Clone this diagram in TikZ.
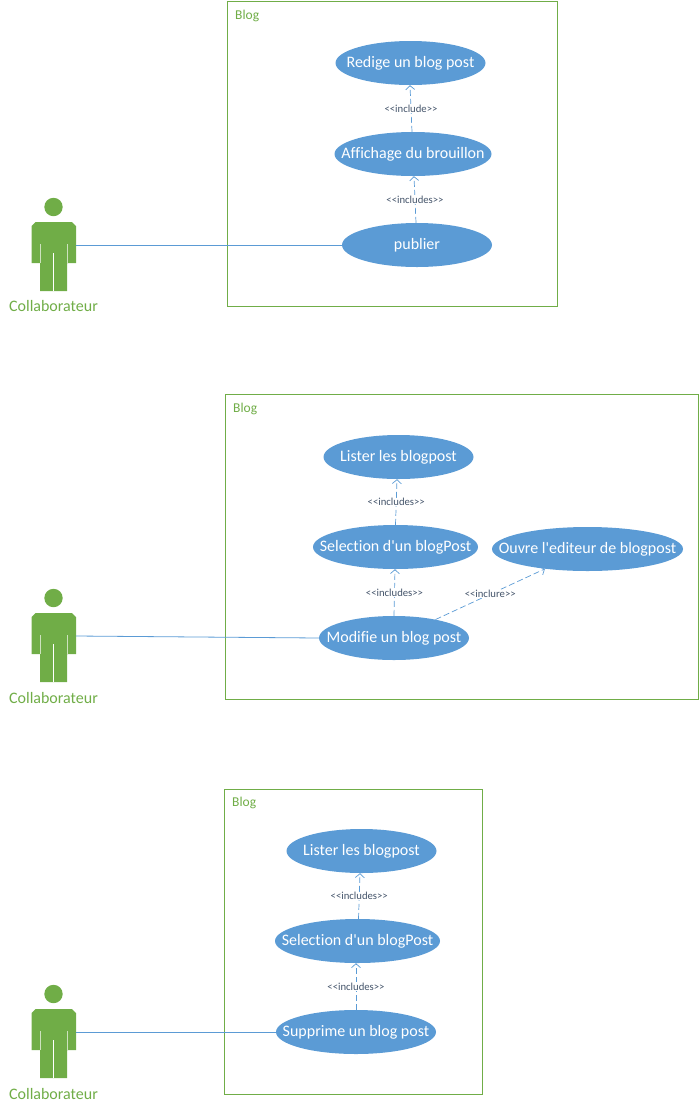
\documentclass[tikz,border=0pt]{standalone}
\usepackage{fontspec}
\setmainfont{Carlito}
\newfontfamily\ucfont[Ligatures=NoCommon]{Carlito}
\usetikzlibrary{shapes.geometric,arrows.meta}
\definecolor{ucblue}{HTML}{5B9BD5}
\definecolor{ucgreen}{HTML}{70AD47}
\definecolor{lblcol}{HTML}{44546A}
\tikzset{
  uc/.style={ellipse,fill=ucblue,draw=none,inner sep=0pt,minimum height=44,text=white,font=\ucfont\fontsize{16}{18}\selectfont},
  frameb/.style={draw=ucgreen,line width=0.8pt,fill=none},
  bloglbl/.style={anchor=west,text=ucgreen,inner sep=0pt,font=\fontsize{13.5}{15}\selectfont},
  actorlbl/.style={text=ucgreen,inner sep=0pt,font=\fontsize{16}{18}\selectfont},
  assoc/.style={draw=ucblue,line width=0.8pt},
  incl/.style={draw=ucblue,line width=0.7pt,dash pattern=on 6pt off 3pt,-{Straight Barb[length=4pt,width=9pt,line width=0.7pt]}},
  incllbl/.style={fill=white,text=lblcol,inner sep=0.5pt,font=\ucfont\fontsize{10.7}{12}\selectfont},
}
\newcommand{\actorfig}[2]{%
  \begin{scope}[yshift=-#1]
    \fill[ucgreen] (53.5,207) circle[radius=9.2];
    \fill[ucgreen] (35.5,222) -- (72,222) -- (76,226) -- (76,263) -- (67,263) -- (67,291) -- (40,291) -- (40,263) -- (31.5,263) -- (31.5,226) -- cycle;
    \draw[white!65!ucgreen,line width=0.8pt] (40,244) -- (40,263) (67,244) -- (67,263);
    \draw[white,line width=0.9pt] (53.5,253) -- (53.5,291);
    \coordinate (#2) at (76,245);
  \end{scope}}
\newcommand{\ucnode}[5]{\node[uc,minimum width=#4] (#1) at (#2,#3) {\makebox[0pt]{\smash{\raisebox{-4.5pt}{#5}}}};}
\begin{document}
\begin{tikzpicture}[x=1pt,y=-1pt]
\useasboundingbox (0,0) rectangle (699,1112);
% frames
\node[frameb,minimum width=330,minimum height=305,inner sep=0pt] (f1) at (392,153.5) {};
\node[frameb,minimum width=473,minimum height=305,inner sep=0pt] (f2) at (461.5,546.5) {};
\node[frameb,minimum width=258,minimum height=305,inner sep=0pt] (f3) at (353,941.5) {};
\node[bloglbl] (b1) at (235,16) {Blog};
\node[bloglbl] (b2) at (233,409) {Blog};
\node[bloglbl] (b3) at (232,803) {Blog};
% actors
\actorfig{0}{a1}
\actorfig{391}{a2}
\actorfig{787}{a3}
\node[actorlbl] (l1) at (53.5,306) {Collaborateur};
\node[actorlbl] (l2) at (53.5,698) {Collaborateur};
\node[actorlbl] (l3) at (53.5,1094) {Collaborateur};
% top
\ucnode{r1}{410.5}{63}{150}{Redige un blog post}
\ucnode{r2}{413}{154}{157}{Affichage du brouillon}
\ucnode{r3}{417}{245}{150}{publier}
% middle
\ucnode{m1}{398.5}{457}{150}{Lister les blogpost}
\ucnode{m2}{395.5}{547}{165}{Selection d'un blogPost}
\ucnode{m3}{587.5}{549}{191}{Ouvre l'editeur de blogpost}
\ucnode{m4}{394}{638}{150}{Modifie un blog post}
% bottom
\ucnode{s1}{361.5}{851}{150}{Lister les blogpost}
\ucnode{s2}{357.5}{941}{165}{Selection d'un blogPost}
\ucnode{s3}{356}{1032}{160}{Supprime un blog post}
% associations
\draw[assoc] (a1) -- (r3.west);
\draw[assoc] (a2) -- (m4.west);
\draw[assoc] (a3) -- (s3.west);
% includes
\draw[incl] ([xshift=-1pt]r2.north) -- ([xshift=-0.5pt]r1.south) node[midway,incllbl] (t1) {<<include>>};
\draw[incl] ([xshift=-1pt]r3.north) -- ([xshift=1pt]r2.south) node[midway,incllbl] (t2) {<<includes>>};
\draw[incl] (m2.north) -- ([xshift=-1.5pt]m1.south) node[midway,incllbl] (t3) {<<includes>>};
\draw[incl] (m4.north) -- ([xshift=-0.5pt]m2.south) node[midway,incllbl] (t4) {<<includes>>};
\draw[incl] (m4.24.5) -- (m3.-155) node[midway,incllbl] (t5) {<<inclure>>};
\draw[incl] ([xshift=1pt]s2.north) -- ([xshift=-1.5pt]s1.south) node[midway,incllbl] (t6) {<<includes>>};
\draw[incl] (s3.north) -- (s2.south -| s3.north) node[midway,incllbl] (t7) {<<includes>>};
\end{tikzpicture}
\end{document}
